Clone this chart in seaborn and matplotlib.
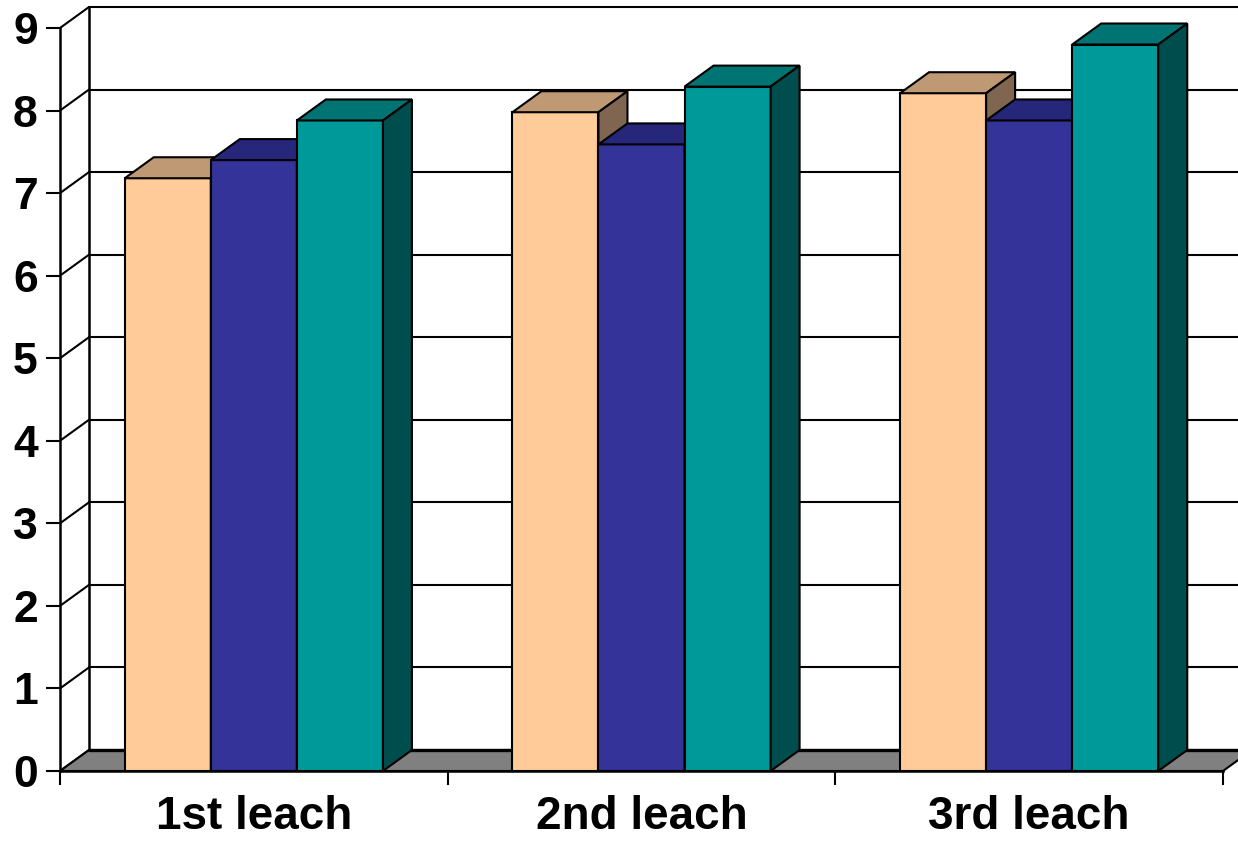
import numpy as np
import pandas as pd
import matplotlib
matplotlib.use("Agg")
import matplotlib.pyplot as plt
import seaborn as sns
from matplotlib.patches import Polygon, Rectangle

# data
categories = ["1st leach", "2nd leach", "3rd leach"]
series = ["Series 1", "Series 2", "Series 3"]
values_s1 = [7.18, 7.98, 8.21]
values_s2 = [7.40, 7.59, 7.88]
values_s3 = [7.88, 8.29, 8.80]
yticks = [0, 1, 2, 3, 4, 5, 6, 7, 8, 9]

front_colors = ["#FFCC99", "#333399", "#009999"]
top_colors = ["#BF9973", "#26267A", "#007373"]
side_colors = ["#806650", "#1A1A4D", "#004D4D"]

df = pd.DataFrame({
    "leach": categories * 3,
    "series": [s for s in series for _ in categories],
    "value": values_s1 + values_s2 + values_s3,
})

sns.set_theme(style="white")
plt.rcParams["font.family"] = ["Liberation Sans", "DejaVu Sans"]
plt.rcParams["font.weight"] = "bold"
plt.rcParams["text.color"] = "black"
plt.rcParams["xtick.color"] = "black"
plt.rcParams["ytick.color"] = "black"

W, H = 1238, 848
fig = plt.figure(figsize=(W / 100, H / 100), dpi=100)
ax = fig.add_axes([60 / W, 1 - 771 / H, (1223 - 60) / W, (771 - 28) / H])

lw = 1.5

sns.barplot(data=df, x="leach", y="value", hue="series", palette=front_colors,
            width=0.666, saturation=1, edgecolor="black", linewidth=lw,
            legend=False, errorbar=None, ax=ax)

# keep the bars, with series index (seaborn draws one series after the other)
bars = [b for b in ax.patches if isinstance(b, Rectangle) and b.get_height() > 0]
bar_series = [i // len(categories) for i in range(len(bars))]

ax.set_xlim(-0.5, 2.5)
ax.set_ylim(0, 9)

# depth offset (pixels) converted to data units
DX_PX, DY_PX = 29, 21
p0 = ax.transData.transform((0, 0))
p1 = ax.transData.transform((1, 1))
dx = DX_PX / (p1[0] - p0[0])
dy = DY_PX / (p1[1] - p0[1])

xl, xr = -0.5, 2.5

# floor
ax.add_patch(Polygon([(xl, 0), (xr, 0), (xr + dx, dy), (xl + dx, dy)], closed=True,
                     facecolor="#808080", edgecolor="black", lw=lw, zorder=1, clip_on=False))
ax.plot([xl + dx, xr + dx * 2], [dy, dy], color="black", lw=2.4, zorder=1.1, clip_on=False)

# back wall gridlines and left wall
for k in yticks[1:]:
    ax.plot([xl + dx, xr + dx * 2], [k + dy, k + dy], color="black", lw=lw, zorder=0.5, clip_on=False)
for k in yticks:
    ax.plot([xl, xl + dx], [k, k + dy], color="black", lw=lw, zorder=0.5, clip_on=False)
ax.plot([xl + dx, xl + dx], [dy, 9 + dy], color="black", lw=1.8, zorder=0.5, clip_on=False)

# 3d faces of the bars, drawn left to right
order = sorted(range(len(bars)), key=lambda i: bars[i].get_x())
for rank, i in enumerate(order):
    b = bars[i]
    ci = bar_series[i]
    x0 = b.get_x()
    x1 = x0 + b.get_width()
    h = b.get_height()
    z = 3 + rank * 0.1
    b.set_zorder(z)
    ax.add_patch(Polygon([(x0, h), (x1, h), (x1 + dx, h + dy), (x0 + dx, h + dy)], closed=True,
                         facecolor=top_colors[ci], edgecolor="black", lw=lw, zorder=z + 0.01,
                         clip_on=False))
    ax.add_patch(Polygon([(x1, 0), (x1 + dx, dy), (x1 + dx, h + dy), (x1, h)], closed=True,
                         facecolor=side_colors[ci], edgecolor="black", lw=lw, zorder=z + 0.02,
                         clip_on=False))

# axes styling
for s in ["top", "right"]:
    ax.spines[s].set_visible(False)
for s in ["left", "bottom"]:
    ax.spines[s].set_linewidth(1.8)
    ax.spines[s].set_zorder(6)
    ax.spines[s].set_color("black")

ax.set_yticks(yticks)
ax.set_yticklabels([str(t) for t in yticks], fontsize=32, fontweight="bold", color="black")
ax.tick_params(axis="y", which="major", left=True, length=10, width=1.5, pad=6, color="black")

ax.set_xticks(range(len(categories)))
ax.set_xticklabels(categories, fontsize=33, fontweight="bold", color="black")
ax.tick_params(axis="x", which="major", bottom=False, length=0, pad=17)
ax.set_xticks([-0.5, 0.5, 1.5, 2.5], minor=True)
ax.tick_params(axis="x", which="minor", bottom=True, length=10, width=1.5, color="black")

ax.set_xlabel("")
ax.set_ylabel("")
ax.grid(False)

fig.savefig("out.png", dpi=100)
